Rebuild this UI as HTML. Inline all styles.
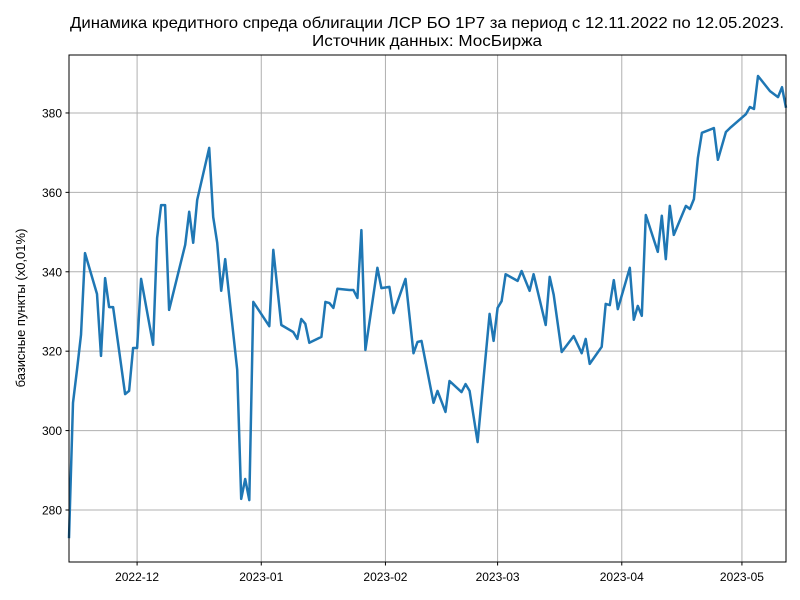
<!DOCTYPE html>
<html><head><meta charset="utf-8">
<style>
body{margin:0;background:#fff;font-family:"Liberation Sans","DejaVu Sans",sans-serif;}
svg{display:block}
</style></head>
<body>
<svg id="chart" width="800" height="600">
<text x="427" y="28" text-anchor="middle" font-size="16" textLength="714" lengthAdjust="spacingAndGlyphs">Динамика кредитного спреда облигации ЛСР БО 1Р7 за период с 12.11.2022 по 12.05.2023.</text>
<text x="427" y="46" text-anchor="middle" font-size="16" textLength="230" lengthAdjust="spacingAndGlyphs">Источник данных: МосБиржа</text>
<text transform="translate(25,308) rotate(-90)" text-anchor="middle" font-size="13">базисные пункты (x0,01%)</text>
<g id="grid"></g>
<g id="ticks"></g>
<path id="line" fill="none" stroke="#1f77b4" stroke-width="2.5" stroke-linejoin="round"/>
<rect x="69" y="55" width="717" height="507" fill="none" stroke="#000" stroke-width="1"/>
</svg>
<script>
const days=[0,1,2,3,4,7,8,9,10,11,14,15,16,17,18,21,22,23,24,25,29,30,31,32,35,36,37,38,39,42,43,44,45,46,50,51,53,56,57,58,59,60,63,64,65,66,67,70,71,72,73,74,77,78,80,81,84,86,87,88,91,92,94,95,98,99,100,102,105,106,107,108,109,112,113,115,116,119,120,121,123,126,128,129,130,133,134,135,136,137,140,141,142,143,144,147,148,149,150,151,154,155,156,157,158,161,162,164,165,169,170,171,172,175,177,178,179];
const values=[272.9,307.0,315.3,324.1,344.7,334.4,318.8,338.4,331.1,331.1,309.2,310.0,320.8,320.8,338.2,321.6,348.5,356.8,356.8,330.4,346.8,355.1,347.3,358.1,371.2,353.8,347.3,335.2,343.2,315.3,282.8,287.8,282.5,332.4,326.3,345.5,326.6,324.8,323.1,328.1,326.9,322.1,323.6,332.4,332.1,330.9,335.7,335.4,335.4,333.4,350.5,320.3,341.0,335.9,336.2,329.6,338.2,319.5,322.3,322.6,307.0,310.0,304.7,312.5,309.7,311.7,310.0,297.1,329.4,322.6,330.9,332.6,339.4,337.7,340.2,335.2,339.4,326.6,338.7,334.2,319.8,323.8,319.5,323.1,316.8,321.1,331.9,331.6,337.9,330.6,341.0,327.9,331.4,328.9,354.3,345.0,354.1,343.2,356.6,349.3,356.6,355.8,358.3,368.7,375.0,376.2,368.2,375.2,376.2,379.7,381.5,381.0,389.3,385.5,384.0,386.5,381.3];
const yTicks=[280,300,320,340,360,380];
const xTickDays=[17,48,79,107,138,168];
const xTickLabels=["2022-12","2023-01","2023-02","2023-03","2023-04","2023-05"];
const L=69,R=786,T=55,B=562,d0=0,d1=179,y0=266.9,y1=394.6;
const X=d=>L+(d-d0)/(d1-d0)*(R-L);
const Y=v=>B-(v-y0)/(y1-y0)*(B-T);
const ns="http://www.w3.org/2000/svg";
const grid=document.getElementById('grid'),ticks=document.getElementById('ticks');
function mk(tag,attrs,parent){const e=document.createElementNS(ns,tag);for(const k in attrs)e.setAttribute(k,attrs[k]);parent.appendChild(e);return e;}
yTicks.forEach(v=>{
 const g=mk('line',{x1:L,x2:R,y1:Y(v),y2:Y(v),stroke:'#b0b0b0','stroke-width':1},grid);
 
 
 mk('line',{x1:L-3.5,x2:L,y1:Y(v),y2:Y(v),stroke:'#000'},ticks);
 const t=mk('text',{x:L-7,y:Y(v)+4.5,'text-anchor':'end','font-size':12},ticks);
 t.textContent=v;
 
 
});
xTickDays.forEach((d,i)=>{
 const g=mk('line',{x1:X(d),x2:X(d),y1:T,y2:B,stroke:'#b0b0b0','stroke-width':1},grid);
 
 
 mk('line',{x1:X(d),x2:X(d),y1:B,y2:B+3.5,stroke:'#000'},ticks);
 const t=mk('text',{x:X(d),y:B+19,'text-anchor':'middle','font-size':12},ticks);
 t.textContent=xTickLabels[i];
 
 
});
document.getElementById('line').setAttribute('d',days.map((d,i)=>(i?'L':'M')+X(d).toFixed(1)+','+Y(values[i]).toFixed(1)).join(''));
</script>
</body></html>
